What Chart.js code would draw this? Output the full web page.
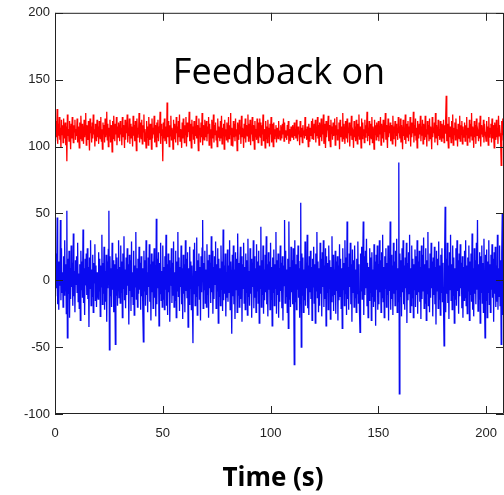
<!DOCTYPE html>
<html>
<head>
<meta charset="utf-8">
<script src="https://cdn.jsdelivr.net/npm/chart.js@4.4.1/dist/chart.umd.min.js"></script>
<style>
  html, body { margin: 0; padding: 0; background: #fff; }
  #wrap { width: 504px; height: 495px; }
</style>
</head>
<body>
<div id="wrap"><canvas id="chart1" width="504" height="495"></canvas></div>
<script>
// samples every 0.25 s (40 samples per row = 10 s)
var sampleStep = 0.25;

var redSignal = [
  111,104,119,107,128,102,117,108,122,105,114,99,120,109,116,103,121,110,106,118,
  101,115,89,124,108,113,104,119,110,98,117,106,122,109,103,116,111,120,105,113,
  108,121,103,115,110,99,118,106,123,111,104,117,109,102,120,107,114,125,101,116,
  112,105,119,108,97,121,110,115,103,118,106,124,109,113,100,117,111,104,120,107,
  115,102,119,110,106,122,104,113,98,118,109,116,103,121,107,112,126,105,117,100,
  114,108,120,103,116,111,96,119,106,123,110,104,117,109,122,101,115,107,118,112,
  104,119,109,114,101,122,107,116,111,99,120,105,118,110,124,103,113,108,121,102,
  117,106,115,111,100,123,108,116,104,119,112,97,121,107,114,109,125,103,118,110,
  106,120,102,116,111,124,104,113,108,99,119,107,115,101,122,110,105,117,112,98,
  121,106,114,109,123,103,116,111,100,118,107,120,104,115,110,126,102,117,108,113,
  89,118,106,121,104,115,110,102,133,107,119,112,100,116,108,123,105,114,111,98,
  120,106,117,109,103,122,110,115,101,119,107,124,104,113,110,99,118,106,121,111,
  103,116,109,122,100,118,107,113,111,126,104,117,108,99,120,110,115,105,119,102,
  114,108,123,106,116,111,97,121,109,114,103,118,107,125,101,116,110,105,120,112,
  107,119,104,115,110,122,101,117,108,113,99,120,111,106,124,103,116,109,118,105,
  112,100,121,107,115,110,104,119,106,123,102,114,109,117,98,120,108,113,105,118,
  110,103,122,106,116,109,125,101,114,111,100,119,107,117,104,121,108,113,97,118,
  112,105,120,109,115,102,123,107,114,110,99,117,106,121,103,116,111,108,124,104,
  117,106,120,101,114,109,122,104,116,110,98,119,107,113,105,121,111,103,118,108,
  121,107,118,101,116,109,124,104,113,110,99,119,106,115,103,120,108,114,100,117,
  109,122,103,117,110,100,118,106,113,108,116,103,114,111,106,119,108,112,105,116,
  110,106,117,109,121,104,118,107,112,110,105,116,108,119,102,113,109,104,115,110,
  107,116,110,105,118,108,113,106,120,111,104,115,109,112,101,119,107,114,110,103,
  116,109,112,106,122,108,113,105,115,111,100,117,104,114,110,108,119,106,121,109,
  105,117,110,120,103,114,108,122,106,116,101,118,111,107,121,104,115,109,124,102,
  117,110,99,119,107,114,112,123,104,116,108,100,120,110,115,105,118,108,113,121,
  101,116,109,122,105,113,110,118,98,120,107,115,111,104,125,106,117,109,102,119,
  112,106,121,103,114,110,118,100,116,108,123,105,113,111,99,119,107,115,104,120,
  110,102,117,108,124,105,115,111,99,121,106,118,109,113,103,120,107,116,110,126,
  104,114,108,119,101,117,110,106,122,103,115,112,98,120,109,116,105,118,111,107,
  119,104,115,109,122,101,117,110,106,120,103,114,111,125,105,116,108,99,121,107,
  113,110,118,104,116,109,102,123,106,115,111,119,100,117,108,114,105,122,110,112,
  106,121,103,116,110,98,120,108,114,105,124,102,117,111,107,119,104,115,109,122,
  100,118,107,113,110,126,103,116,108,121,105,114,99,119,111,106,117,109,123,104,
  115,108,120,102,117,110,105,123,107,113,100,119,109,116,104,121,106,115,111,98,
  122,107,114,110,118,103,125,106,116,109,101,120,108,113,105,119,110,104,117,111,
  106,120,103,116,110,121,138,104,117,108,99,122,107,115,110,103,119,106,124,101,
  114,109,118,105,121,108,113,100,117,111,106,123,104,116,109,119,102,115,110,107,
  118,104,116,109,122,101,114,110,106,120,103,117,108,125,105,115,111,99,119,107,
  116,102,121,108,113,110,104,118,106,123,100,116,109,114,107,120,103,117,111,108,
  104,119,108,115,101,122,107,114,110,117,103,121,106,116,109,99,118,111,105,120,
  107,114,102,123,108,116,110,104,86,119,109,121,105,115,111,103,118,107,114,110
];

var blueSignal = [
  8,-12,20,-6,47,-18,14,-22,10,-4,45,-15,24,-9,6,-20,18,-11,30,-8,
  12,-25,52,-43,16,-10,22,-28,9,-14,26,-5,13,-19,35,-12,7,-24,15,-3,
  18,-9,28,-16,5,-21,12,-30,22,-7,14,-13,38,-17,9,-26,16,-4,20,-11,
  24,-14,10,-35,17,-6,30,-19,8,-12,19,-24,13,-2,27,-15,11,-20,6,-9,
  -14,21,-8,16,-27,11,-5,34,-18,13,-10,25,-22,7,-16,19,-31,14,-6,23,
  52,-52,18,-12,9,-20,28,-7,15,-24,12,-3,-48,20,-11,17,-19,8,30,-13,
  10,-17,26,-9,14,-28,20,-6,33,-15,8,-21,17,-11,24,-4,12,-33,19,-8,
  15,-23,29,-12,6,-18,22,-26,11,-5,36,-14,9,-20,16,-10,25,-7,13,-22,
  18,-12,9,-25,-46,22,-8,15,-19,30,-11,6,-24,17,-5,27,-16,12,-30,20,
  -9,14,-21,8,24,-13,11,-27,46,-18,16,-6,21,-34,13,-10,28,-15,7,-20,
  26,-14,10,-22,18,-7,34,-19,12,-26,20,-9,15,-31,8,-4,24,-17,13,-11,
  29,-20,6,-15,22,-28,14,-8,36,-12,17,-23,10,-5,26,-18,9,-29,19,-10,
  12,-24,30,-8,16,-13,21,-35,9,-18,25,-6,14,-22,11,-16,-47,23,-10,28,
  -19,7,-12,32,-26,15,-4,20,-14,10,-30,18,-9,24,45,-21,13,-7,22,-17,
  8,-20,27,-11,15,-28,19,-6,13,-17,33,-9,22,-25,10,-14,18,-3,29,-21,
  12,-8,24,-32,16,-12,9,-19,26,-7,14,-23,38,-15,11,-10,20,-27,6,-13,
  23,-16,11,-9,30,-22,14,-5,-40,19,-12,26,-18,8,-29,21,-7,16,-24,35,
  -11,13,-20,9,25,-14,18,-31,12,-6,28,-17,10,-22,20,-9,15,-26,31,-12,
  7,-19,24,-10,16,-28,13,-5,30,-21,18,-13,9,-24,27,-8,14,-17,22,-32,
  11,-6,40,-20,15,-11,26,-25,8,-15,19,-9,33,-18,12,-27,21,-7,14,-22,
  28,-14,10,-34,17,-9,23,-19,12,-6,36,-25,15,-11,20,-28,9,-16,26,-8,
  13,-21,18,-30,11,-4,45,-17,22,-12,8,-24,16,-36,44,-14,10,-20,25,-9,
  15,-18,24,-10,-63,30,-16,12,-22,19,-7,26,-13,9,-28,14,58,-50,20,-11,
  17,-24,8,-15,29,-19,13,-6,34,-21,11,-26,18,-9,22,-14,10,-30,16,-5,
  25,-17,12,-32,20,-8,36,-13,14,-24,9,-19,28,-10,16,-27,21,-5,30,-20,
  11,-14,24,-34,18,-9,13,-22,26,-6,15,-29,10,-16,33,-12,19,-23,8,-11,
  22,-25,14,-8,18,-30,11,-15,27,-12,16,-21,9,-36,24,-7,13,-19,30,-10,
  17,-26,44,-14,10,-22,20,-5,28,-18,12,-31,23,-9,15,-20,26,-13,8,-24,
  16,-10,29,-17,12,-23,-39,20,-8,25,-14,9,44,-26,18,-11,22,-6,31,-19,
  13,-28,10,-15,24,-9,17,-30,21,-12,8,-20,27,-16,14,-34,19,-7,26,-22,
  12,-18,30,-9,15,-24,21,-13,34,-16,10,-28,18,-6,24,-20,13,-11,26,-30,
  16,-8,44,-22,19,-14,11,-26,28,-10,14,-19,22,-7,31,-24,9,-16,88,-85,
  20,-12,15,-27,24,-9,30,-18,11,-22,17,-6,28,-32,13,-15,21,-10,34,-24,
  9,-19,26,-13,16,-28,12,-7,23,-20,18,-11,30,-25,14,-9,22,-16,10,-29,
  26,-14,19,-8,32,-21,12,-17,24,-30,15,-10,36,-19,9,-24,20,-13,28,-6,
  14,-27,17,-11,25,-18,10,-33,22,-8,16,-21,29,-14,11,-26,19,-9,24,-16,
  13,-20,-49,18,55,-24,16,-10,28,-17,11,-29,21,-7,34,-15,12,-22,26,-11,
  17,-32,9,-14,24,-19,30,-8,15,-25,20,-12,27,-6,13,-21,18,-28,10,-15,
  22,-13,30,-19,11,-25,17,-8,26,-30,14,-11,20,-16,35,-22,9,-27,24,-10,
  15,-18,28,-7,45,-23,12,-14,21,-32,18,-9,26,-17,13,-24,31,-11,-43,19,
  -15,23,-28,14,-9,30,-18,12,-24,19,-7,27,-13,16,-31,21,-10,25,-20,11,
  -16,34,-22,9,-12,26,-19,15,-48,20,50,-26,13,-11,28,-17,22,-8,30,-21
];

var timeSec = redSignal.map(function (v, i) { return i * sampleStep; });

var xTicks = [0, 50, 100, 150, 200];
var yTicks = [-100, -50, 0, 50, 100, 150, 200];

var titleText = 'Feedback on';
var xTitle = 'Time (s)';

// inward ticks + box, matlab style
var boxPlugin = {
  id: 'box',
  beforeDraw: function (chart) {
    var c = chart.ctx;
    c.save();
    c.fillStyle = '#fff';
    c.fillRect(0, 0, chart.width, chart.height);
    c.restore();
  },
  afterDraw: function (chart) {
    var c = chart.ctx, a = chart.chartArea;
    var xs = chart.scales.x, ys = chart.scales.y;
    var len = 8;
    c.save();
    c.strokeStyle = '#222';
    c.lineWidth = 1;
    c.beginPath();
    c.rect(a.left + 0.5, a.top + 0.5, a.right - a.left - 1, a.bottom - a.top - 1);
    xTicks.forEach(function (t) {
      var px = Math.round(xs.getPixelForValue(t)) + 0.5;
      c.moveTo(px, a.bottom); c.lineTo(px, a.bottom - len);
      c.moveTo(px, a.top); c.lineTo(px, a.top + len);
    });
    yTicks.forEach(function (t) {
      var py = Math.round(ys.getPixelForValue(t)) + 0.5;
      c.moveTo(a.left, py); c.lineTo(a.left + len, py);
      c.moveTo(a.right, py); c.lineTo(a.right - len, py);
    });
    c.stroke();

    c.fillStyle = '#000';
    c.textAlign = 'center';
    c.textBaseline = 'alphabetic';
    c.font = '36px "Open Sans"';
    c.fillText(titleText, 279, a.top + 71);
    c.textBaseline = 'middle';
    c.font = 'bold 26px "Open Sans"';
    c.fillText(xTitle, 273, a.bottom + 65);
    c.restore();
  }
};

var ctx = document.getElementById('chart1').getContext('2d');
var sigChart = new Chart(ctx, {
  type: 'line',
  data: {
    labels: timeSec,
    datasets: [{
      label: 'feedback',
      data: redSignal,
      borderColor: '#ff0000',
      borderWidth: 1.3,
      pointRadius: 0
    }, {
      label: 'emg',
      data: blueSignal,
      borderColor: '#0a0af0',
      borderWidth: 1.3,
      pointRadius: 0
    }]
  },
  options: {
    responsive: false,
    animation: false,
    devicePixelRatio: 1,
    layout: { padding: { top: 9, right: 0, bottom: 0, left: 0 } },
    plugins: { legend: { display: false }, tooltip: { enabled: false } },
    scales: {
      x: {
        type: 'linear',
        min: 0,
        max: 208.3,
        grid: { display: false, drawTicks: false },
        border: { display: false },
        afterBuildTicks: function (s) { s.ticks = xTicks.map(function (v) { return { value: v }; }); },
        afterFit: function (s) {
          s.height = 81;
          s.paddingRight = 0;
          s.paddingLeft = 0;
        },
        ticks: {
          color: '#222',
          font: { family: '"Liberation Sans", Arial', size: 13 },
          padding: 12,
          maxRotation: 0
        }
      },
      y: {
        min: -100,
        max: 200,
        grid: { display: false, drawTicks: false },
        border: { display: false },
        afterBuildTicks: function (s) { s.ticks = yTicks.map(function (v) { return { value: v }; }); },
        afterFit: function (s) { s.width = 55; },
        ticks: {
          color: '#222',
          font: { family: '"Liberation Sans", Arial', size: 13 },
          padding: 5
        }
      }
    }
  },
  plugins: [boxPlugin]
});
</script>
</body>
</html>
